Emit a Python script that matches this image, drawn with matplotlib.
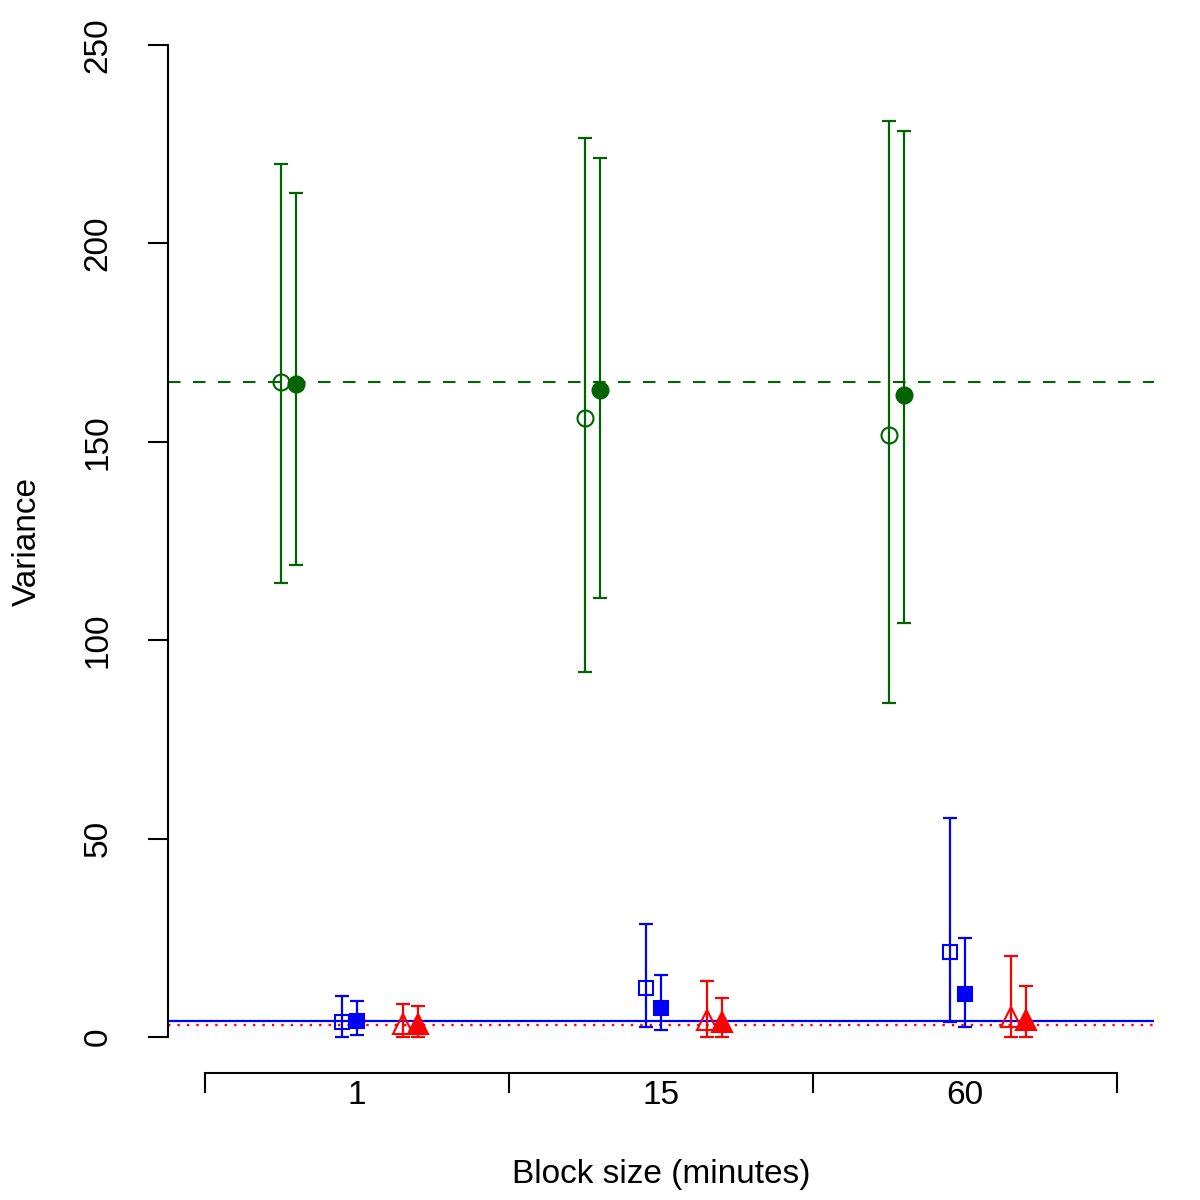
import matplotlib
matplotlib.use("Agg")
import matplotlib.pyplot as plt
import numpy as np

plt.rcParams['font.family'] = ['Liberation Sans', 'DejaVu Sans']

# ---- data ----
groups = ["1", "15", "60"]

green_open_est = [165.1, 156.0, 151.7]
green_open_lo = [114.4, 92.0, 84.2]
green_open_hi = [220.0, 226.6, 230.8]

green_filled_est = [164.6, 163.1, 161.8]
green_filled_lo = [119.0, 110.6, 104.3]
green_filled_hi = [212.7, 221.5, 228.3]

blue_open_est = [3.9, 12.4, 21.3]
blue_open_lo = [0.1, 2.4, 3.9]
blue_open_hi = [10.3, 28.5, 55.1]

blue_filled_est = [4.0, 7.4, 10.8]
blue_filled_lo = [0.5, 1.7, 2.4]
blue_filled_hi = [9.1, 15.7, 25.0]

red_open_est = [3.4, 4.3, 5.1]
red_open_lo = [0.1, 0.1, 0.1]
red_open_hi = [8.4, 14.2, 20.5]

red_filled_est = [3.4, 3.7, 4.3]
red_filled_lo = [0.0, 0.1, 0.0]
red_filled_hi = [7.8, 9.75, 12.9]

green_ref = 165.1
blue_ref = 4.0
red_ref = 3.0

# ---- figure ----
fig = plt.figure(figsize=(12, 12), dpi=100)
ax = fig.add_axes([168/1200, 127/1200, 986/1200, 1053/1200])

x = np.arange(1, len(groups) + 1)

GREEN = "#006400"
BLUE = "#0000FF"
RED = "#FF0000"

ax.axhline(green_ref, color=GREEN, lw=1.5, linestyle=(0, (6, 6)), zorder=1)
ax.axhline(blue_ref, color=BLUE, lw=1.6, zorder=1)
ax.axhline(red_ref, color=RED, lw=1.7, linestyle=(0, (1, 3)), zorder=1)

series = [
    (-0.25, green_open_est, green_open_lo, green_open_hi, GREEN, 'o', False, 11.5),
    (-0.20, green_filled_est, green_filled_lo, green_filled_hi, GREEN, 'o', True, 11.5),
    (-0.05, blue_open_est, blue_open_lo, blue_open_hi, BLUE, 's', False, 10.5),
    (0.00, blue_filled_est, blue_filled_lo, blue_filled_hi, BLUE, 's', True, 10.5),
    (0.15, red_open_est, red_open_lo, red_open_hi, RED, '^', False, 14.5),
    (0.20, red_filled_est, red_filled_lo, red_filled_hi, RED, '^', True, 14.5),
]

for off, est, lo, hi, col, mk, filled, ms in series:
    est = np.array(est); lo = np.array(lo); hi = np.array(hi)
    yerr = np.vstack([est - lo, hi - est])
    ax.errorbar(x + off, est, yerr=yerr, fmt='none', ecolor=col, elinewidth=1.6,
                capsize=5, capthick=1.6, zorder=2)
    ax.plot(x + off, est, linestyle='none', marker=mk, markersize=ms,
            markeredgecolor=col, markerfacecolor=col if filled else 'none',
            markeredgewidth=1.5, zorder=3)

ax.set_xlim(0.378, 3.622)
ax.set_ylim(-9.07, 256.3)

for s in ['top', 'right']:
    ax.spines[s].set_visible(False)
ax.spines['left'].set_bounds(0, 250)
ax.spines['bottom'].set_bounds(0.5, 3.5)
ax.spines['left'].set_linewidth(1.5)
ax.spines['bottom'].set_linewidth(1.5)

ax.set_yticks([0, 50, 100, 150, 200, 250])
ax.set_yticklabels(["0", "50", "100", "150", "200", "250"], rotation=90,
                   va='center', fontsize=24)
ax.tick_params(axis='y', length=14.4, width=1.5, pad=25)

ax.set_xticks([0.5, 1.5, 2.5, 3.5])
ax.set_xticklabels([])
ax.set_xticks(x, minor=True)
ax.set_xticklabels(groups, minor=True, fontsize=24)
ax.tick_params(axis='x', which='major', length=14.4, width=1.5)
ax.tick_params(axis='x', which='minor', length=0, pad=5)

fig.text(661/1200, 1 - 1175/1200, "Block size (minutes)", ha='center', va='center', fontsize=24)
fig.text(27/1200, 1 - 541/1200, "Variance", ha='center', va='center', rotation=90, fontsize=24)

fig.savefig("out.png", dpi=100)
